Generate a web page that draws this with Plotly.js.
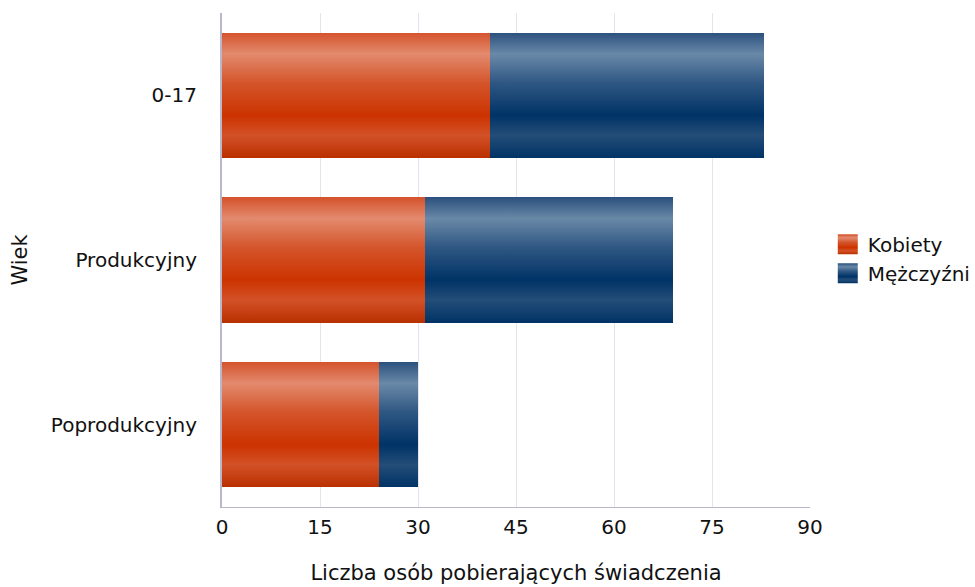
<!DOCTYPE html>
<html>
<head>
<meta charset="utf-8">
<script src="https://cdn.plot.ly/plotly-3.0.1.min.js"></script>
<style>html,body{margin:0;padding:0;background:#fff;}#chart{width:975px;height:587px;}</style>
</head>
<body>
<div id="chart"></div>
<script>
const categories = ["0-17", "Produkcyjny", "Poprodukcyjny"];
const kobiety = [41, 31, 24];
const mezczyzni = [42, 38, 6];
const seriesNames = ["Kobiety", "Mężczyźni"];
const xTicks = [0, 15, 30, 45, 60, 75, 90];

const FONT = "DejaVu Sans, sans-serif";

const data = [
  {type: "bar", orientation: "h", name: seriesNames[0], y: categories, x: kobiety,
   marker: {color: "#cc3300", line: {width: 0}}, hoverinfo: "x+name"},
  {type: "bar", orientation: "h", name: seriesNames[1], y: categories, x: mezczyzni,
   marker: {color: "#003366", line: {width: 0}}, hoverinfo: "x+name"}
];

const layout = {
  width: 975, height: 587,
  barmode: "stack",
  bargap: 0.24,
  paper_bgcolor: "#fff", plot_bgcolor: "#fff",
  margin: {l: 222, r: 165, t: 13, b: 80, autoexpand: false},
  font: {family: FONT, size: 20, color: "#111"},
  showlegend: true,
  legend: {xref: "container", yref: "container", x: 0.849, y: 0.559, xanchor: "left", yanchor: "middle",
           traceorder: "normal", bgcolor: "rgba(0,0,0,0)",
           font: {family: FONT, size: 20, color: "#111"}, itemwidth: 30, tracegroupgap: 0},
  xaxis: {
    range: [0, 90], tickvals: xTicks, ticktext: xTicks.map(String),
    showgrid: true, gridcolor: "#e4e4ee", gridwidth: 1,
    zeroline: false, showline: true, linecolor: "#b8b8cc", linewidth: 1,
    ticks: "outside", ticklen: 2, tickcolor: "rgba(0,0,0,0)",
    tickfont: {family: FONT, size: 20, color: "#111"},
    title: {text: "Liczba osób pobierających świadczenia", font: {family: FONT, size: 21, color: "#111"}, standoff: 27},
    fixedrange: true
  },
  yaxis: {
    autorange: "reversed",
    showgrid: false, zeroline: false, showline: true, linecolor: "#b8b8cc", linewidth: 2,
    ticks: "", ticklabelstandoff: 19, tickfont: {family: FONT, size: 20, color: "#111"},
    title: {text: "Wiek", font: {family: FONT, size: 21, color: "#111"}, standoff: 17},
    fixedrange: true
  }
};

function applyGradients(gd) {
  const svg = gd.querySelector("svg.main-svg");
  if (!svg) return;
  const ns = "http://www.w3.org/2000/svg";
  let defs = svg.querySelector("defs#gradDefs");
  if (!defs) {
    defs = document.createElementNS(ns, "defs");
    defs.setAttribute("id", "gradDefs");
    svg.insertBefore(defs, svg.firstChild);
    const grads = {
      gradK: [[0, "#d4532c"], [0.17, "#e38a6e"], [0.4, "#d4552b"], [0.66, "#cc3300"], [0.82, "#d35127"], [1, "#b93000"]],
      gradM: [[0, "#2b517e"], [0.17, "#6a89a8"], [0.4, "#2f5783"], [0.66, "#003366"], [0.82, "#244d78"], [1, "#003366"]]
    };
    for (const id in grads) {
      const lg = document.createElementNS(ns, "linearGradient");
      lg.setAttribute("id", id);
      lg.setAttribute("x1", "0"); lg.setAttribute("y1", "0");
      lg.setAttribute("x2", "0"); lg.setAttribute("y2", "1");
      grads[id].forEach(([o, c]) => {
        const s = document.createElementNS(ns, "stop");
        s.setAttribute("offset", o); s.setAttribute("stop-color", c);
        lg.appendChild(s);
      });
      defs.appendChild(lg);
    }
  }
  const ids = ["gradK", "gradM"];
  gd.querySelectorAll(".barlayer .trace.bars").forEach((t, i) => {
    t.querySelectorAll("path").forEach(p => { p.style.fill = "url(#" + ids[i] + ")"; });
  });
  gd.querySelectorAll(".legend .traces").forEach((t, i) => {
    t.querySelectorAll(".legendpoints path").forEach(p => {
      p.style.fill = "url(#" + ids[i] + ")";
      p.setAttribute("d", "M-10,-10H10V10H-10Z");
      p.style.stroke = "none";
    });
  });
}

Plotly.newPlot("chart", data, layout, {displayModeBar: false, staticPlot: true}).then(applyGradients);
</script>
</body>
</html>
